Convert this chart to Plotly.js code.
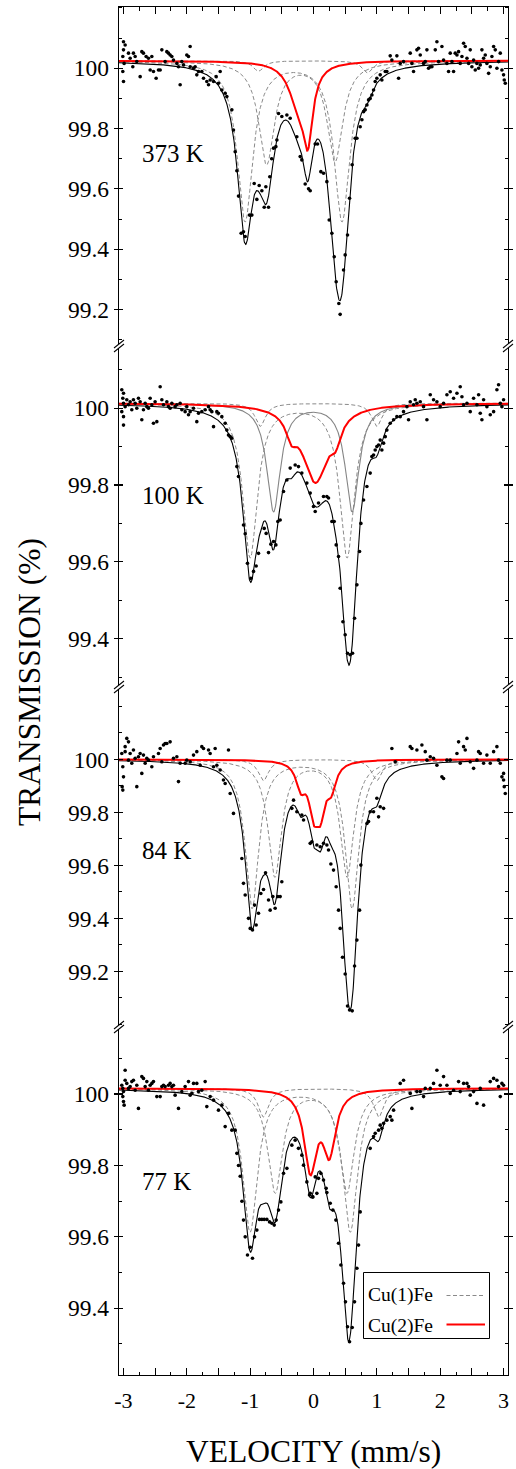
<!DOCTYPE html>
<html><head><meta charset="utf-8">
<script src="https://cdn.plot.ly/plotly-3.0.1.min.js"></script>
<style>html,body{margin:0;padding:0;background:#fff}#chart{width:516px;height:1469px}</style>
</head><body><div id="chart"></div>
<script>
// ---------------- DATA ----------------
const panelTemps = ['373 K', '100 K', '84 K', '77 K'];
const velocityTicks = [-3, -2.5, -2, -1.5, -1, -0.5, 0, 0.5, 1, 1.5, 2, 2.5, 3];
const velocityTickText = ['-3', '', '-2', '', '-1', '', '0', '', '1', '', '2', '', '3'];
const transTicks373 = [99.2, 99.4, 99.6, 99.8, 100];
const transTicks100 = [99.4, 99.6, 99.8, 100];
const transTicks84 = [99.2, 99.4, 99.6, 99.8, 100];
const transTicks77 = [99.4, 99.6, 99.8, 100];
const legendNames = ['Cu(1)Fe', 'Cu(2)Fe'];

// measured points [velocity mm/s, transmission %]
const pts373 = [[-2.999,100.088],[-2.973,100.077],[-2.999,100.061],[-3.01,100.039],[-2.989,100.016],[-3.01,99.989],[-2.999,99.956],[-2.92,100.05],[-2.894,100.033],[-2.842,100.05],[-2.852,100.005],[-2.815,100.039],[-2.789,100.022],[-2.736,99.972],[-2.71,100.055],[-2.684,100.05],[-2.642,100.039],[-2.605,100.033],[-2.552,100.039],[-2.578,99.994],[-2.526,99.989],[-2.484,99.967],[-2.447,99.994],[-2.42,99.994],[-2.394,100.061],[-2.342,100.022],[-2.315,100.055],[-2.289,100.05],[-2.263,100.044],[-2.236,100.039],[-2.21,100.027],[-2.157,100.016],[-2.131,100.005],[-2.105,99.945],[-2.078,100.022],[-2.052,100.011],[-2.0,100.044],[-1.973,100.039],[-1.947,100.072],[-1.947,100.005],[-1.894,100.0],[-1.868,100.005],[-1.842,99.978],[-1.815,99.989],[-1.763,99.989],[-1.736,99.967],[-1.684,99.956],[-1.657,99.945],[-1.631,99.961],[-1.578,99.956],[-1.536,99.972],[-1.5,99.95],[-1.473,99.989],[-1.447,99.928],[-1.394,99.917],[-1.368,99.906],[-1.289,99.862],[-1.263,99.795],[-1.236,99.723],[-1.21,99.66],[-1.184,99.576],[-1.142,99.453],[-1.105,99.458],[-1.078,99.442],[-1.01,99.513],[-0.973,99.513],[-0.936,99.618],[-0.894,99.565],[-0.857,99.611],[-0.815,99.594],[-0.778,99.539],[-0.752,99.607],[-0.71,99.539],[-0.69,99.64],[-0.66,99.70],[-0.631,99.735],[-0.594,99.74],[-0.578,99.762],[-0.552,99.85],[-0.5,99.84],[-0.42,99.845],[-0.368,99.834],[-0.263,99.773],[-0.21,99.707],[-0.184,99.696],[-0.131,99.616],[-0.078,99.6],[-0.052,99.594],[0.027,99.749],[0.064,99.749],[0.116,99.657],[0.158,99.652],[0.211,99.624],[0.248,99.497],[0.29,99.453],[0.327,99.375],[0.358,99.292],[0.4,99.22],[0.421,99.184],[0.474,99.331],[0.5,99.381],[0.537,99.447],[0.569,99.569],[0.61,99.68],[0.658,99.768],[0.685,99.768],[0.737,99.806],[0.764,99.829],[0.79,99.856],[0.816,99.862],[0.843,99.878],[0.869,99.895],[0.895,99.9],[0.922,99.911],[0.948,99.928],[0.974,99.956],[1.0,99.967],[1.053,99.978],[1.079,99.961],[1.132,99.989],[1.158,99.989],[1.211,100.041],[1.237,100.027],[1.316,100.041],[1.343,99.967],[1.369,100.016],[1.421,100.022],[1.527,100.05],[1.553,100.016],[1.579,99.989],[1.632,100.061],[1.658,100.066],[1.685,100.044],[1.737,100.016],[1.764,100.022],[1.79,100.061],[1.816,100.0],[1.843,100.005],[1.869,100.005],[1.922,100.061],[1.948,100.088],[1.974,100.022],[2.027,100.072],[2.053,100.027],[2.106,100.016],[2.132,99.989],[2.158,100.05],[2.185,100.022],[2.211,99.989],[2.237,100.05],[2.264,100.044],[2.29,100.055],[2.316,100.016],[2.343,100.039],[2.369,100.083],[2.395,100.072],[2.422,100.033],[2.448,100.016],[2.474,100.061],[2.5,100.005],[2.527,100.027],[2.553,99.994],[2.579,100.016],[2.606,100.0],[2.632,100.011],[2.658,100.061],[2.685,100.033],[2.711,100.044],[2.737,100.016],[2.764,99.983],[2.79,100.005],[2.816,100.039],[2.843,100.072],[2.869,100.061],[2.895,100.0],[2.922,100.022],[2.948,100.05],[2.974,99.994],[3.0,99.978],[3.011,99.961],[3.027,99.95]];

const pts100 = [[-3.026,100.048],[-2.999,100.039],[-3.01,100.026],[-2.999,100.013],[-2.973,100.004],[-3.026,99.991],[-2.999,99.978],[-2.999,99.956],[-2.947,100.022],[-2.92,100.009],[-2.894,100.017],[-2.868,99.996],[-2.842,100.022],[-2.815,100.013],[-2.789,100.0],[-2.763,100.026],[-2.736,100.017],[-2.71,99.97],[-2.684,99.996],[-2.657,100.013],[-2.631,100.004],[-2.605,100.0],[-2.578,100.026],[-2.552,100.009],[-2.526,99.961],[-2.5,100.017],[-2.473,99.965],[-2.42,100.056],[-2.394,100.022],[-2.368,100.009],[-2.315,100.017],[-2.289,100.004],[-2.263,100.0],[-2.236,100.013],[-2.184,100.004],[-2.157,100.009],[-2.105,100.013],[-2.078,99.996],[-2.026,99.991],[-2.0,100.004],[-1.973,99.983],[-1.947,99.991],[-1.894,100.0],[-1.842,99.965],[-1.815,99.987],[-1.763,99.991],[-1.71,99.996],[-1.657,100.004],[-1.631,99.996],[-1.605,99.991],[-1.578,99.952],[-1.526,99.991],[-1.5,99.987],[-1.447,99.978],[-1.394,99.961],[-1.368,99.943],[-1.342,99.93],[-1.315,99.926],[-1.289,99.922],[-1.21,99.848],[-1.184,99.822],[-1.105,99.696],[-1.078,99.673],[-1.042,99.596],[-0.989,99.557],[-0.947,99.575],[-0.905,99.589],[-0.868,99.622],[-0.778,99.687],[-0.747,99.674],[-0.71,99.624],[-0.673,99.646],[-0.631,99.653],[-0.594,99.644],[-0.563,99.705],[-0.526,99.709],[-0.473,99.783],[-0.42,99.813],[-0.368,99.844],[-0.289,99.852],[-0.237,99.848],[-0.184,99.831],[-0.105,99.805],[-0.052,99.779],[0.0,99.744],[0.027,99.731],[0.079,99.753],[0.158,99.77],[0.211,99.77],[0.237,99.766],[0.29,99.705],[0.327,99.705],[0.358,99.644],[0.395,99.614],[0.421,99.531],[0.464,99.444],[0.5,99.41],[0.537,99.362],[0.579,99.358],[0.616,99.362],[0.648,99.453],[0.685,99.54],[0.727,99.627],[0.748,99.7],[0.79,99.761],[0.843,99.796],[0.895,99.831],[0.921,99.874],[0.948,99.878],[0.974,99.891],[1.0,99.9],[1.027,99.904],[1.053,99.917],[1.079,99.891],[1.106,99.909],[1.132,99.926],[1.158,99.943],[1.211,99.961],[1.264,99.97],[1.316,99.978],[1.369,99.978],[1.421,99.991],[1.474,100.004],[1.5,99.97],[1.527,100.017],[1.579,100.009],[1.606,100.022],[1.632,100.013],[1.685,100.017],[1.737,100.004],[1.79,99.97],[1.843,100.035],[1.895,100.022],[1.948,100.017],[2.0,100.004],[2.053,100.013],[2.106,100.035],[2.158,100.043],[2.211,100.026],[2.264,100.039],[2.316,100.056],[2.343,100.03],[2.369,100.009],[2.422,100.013],[2.474,99.991],[2.527,100.026],[2.58,100.009],[2.606,100.035],[2.632,99.987],[2.658,99.97],[2.685,100.022],[2.737,100.004],[2.79,99.983],[2.843,99.991],[2.895,100.048],[2.921,100.061],[2.948,100.013],[2.974,100.004],[3.0,100.022]];

const pts84 = [[-3.026,100.022],[-3.01,99.972],[-2.999,99.934],[-3.02,99.897],[-3.01,99.884],[-2.973,100.048],[-2.973,100.029],[-2.947,100.079],[-2.92,100.066],[-2.92,99.997],[-2.894,100.022],[-2.868,99.985],[-2.842,100.035],[-2.815,100.004],[-2.789,99.897],[-2.763,100.01],[-2.736,100.022],[-2.71,99.947],[-2.684,100.016],[-2.657,99.985],[-2.631,100.004],[-2.605,99.997],[-2.552,99.972],[-2.526,100.01],[-2.447,100.022],[-2.42,100.041],[-2.394,99.991],[-2.368,100.054],[-2.342,100.06],[-2.315,100.06],[-2.263,100.066],[-2.21,100.004],[-2.157,100.01],[-2.131,99.916],[-2.105,99.985],[-2.026,99.985],[-2.0,99.997],[-1.947,99.991],[-1.894,100.016],[-1.842,100.029],[-1.789,99.978],[-1.763,100.048],[-1.736,100.041],[-1.657,100.035],[-1.631,100.022],[-1.578,99.972],[-1.552,100.041],[-1.526,99.978],[-1.473,99.96],[-1.421,99.922],[-1.394,99.909],[-1.342,100.035],[-1.315,99.871],[-1.263,99.796],[-1.131,99.626],[-1.105,99.532],[-1.078,99.488],[-1.026,99.4],[-0.999,99.362],[-0.963,99.356],[-0.931,99.45],[-0.905,99.375],[-0.868,99.419],[-0.831,99.494],[-0.789,99.509],[-0.757,99.572],[-0.71,99.469],[-0.684,99.431],[-0.642,99.482],[-0.605,99.438],[-0.563,99.482],[-0.526,99.482],[-0.5,99.538],[-0.342,99.815],[-0.315,99.846],[-0.263,99.802],[-0.184,99.79],[-0.157,99.771],[-0.052,99.683],[-0.026,99.689],[0.053,99.677],[0.106,99.67],[0.158,99.683],[0.211,99.677],[0.237,99.658],[0.274,99.605],[0.316,99.582],[0.358,99.519],[0.395,99.431],[0.421,99.362],[0.458,99.253],[0.5,99.19],[0.537,99.069],[0.569,99.054],[0.611,99.051],[0.648,99.22],[0.685,99.318],[0.727,99.431],[0.748,99.601],[0.843,99.758],[0.869,99.765],[0.895,99.802],[0.948,99.802],[1.0,99.853],[1.027,99.783],[1.053,99.821],[1.106,99.815],[1.237,100.041],[1.29,99.991],[1.527,100.048],[1.553,100.041],[1.632,100.035],[1.711,100.054],[1.764,100.029],[1.79,99.997],[1.843,100.01],[1.895,100.004],[1.948,99.978],[2.027,99.934],[2.053,99.928],[2.106,99.997],[2.158,99.997],[2.264,100.022],[2.29,100.066],[2.316,99.985],[2.369,100.048],[2.395,100.035],[2.422,100.079],[2.474,99.991],[2.527,99.966],[2.58,99.997],[2.606,100.029],[2.632,100.022],[2.685,99.985],[2.737,100.016],[2.79,99.985],[2.843,100.029],[2.895,100.048],[2.921,99.997],[2.948,99.985],[2.974,99.934],[3.0,99.922],[3.011,99.897],[3.027,99.871],[3.0,99.947]];

const pts77 = [[-3.026,100.025],[-3.01,100.016],[-2.999,100.007],[-3.01,99.993],[-2.999,99.979],[-2.989,99.969],[-2.973,100.067],[-2.973,100.039],[-2.947,100.03],[-2.92,100.016],[-2.894,100.021],[-2.868,100.035],[-2.842,100.039],[-2.815,100.011],[-2.789,100.025],[-2.763,99.96],[-2.71,100.049],[-2.684,100.044],[-2.657,100.021],[-2.631,100.035],[-2.605,100.011],[-2.578,100.025],[-2.552,100.03],[-2.526,100.035],[-2.473,99.993],[-2.42,99.993],[-2.394,100.021],[-2.368,100.025],[-2.342,100.021],[-2.289,100.025],[-2.263,100.03],[-2.236,100.021],[-2.21,100.025],[-2.184,99.997],[-2.131,99.96],[-2.078,100.007],[-2.026,100.021],[-1.973,100.035],[-1.947,99.997],[-1.92,100.002],[-1.894,100.03],[-1.842,100.03],[-1.815,100.007],[-1.763,100.011],[-1.71,100.035],[-1.684,99.965],[-1.631,99.993],[-1.578,99.983],[-1.5,99.955],[-1.447,99.969],[-1.394,99.909],[-1.342,99.946],[-1.289,99.899],[-1.236,99.899],[-1.21,99.834],[-1.184,99.80],[-1.157,99.77],[-1.13,99.70],[-1.105,99.647],[-1.078,99.6],[-1.042,99.549],[-0.999,99.571],[-0.963,99.54],[-0.931,99.6],[-0.894,99.619],[-0.852,99.649],[-0.815,99.649],[-0.778,99.649],[-0.736,99.649],[-0.694,99.642],[-0.657,99.638],[-0.62,99.633],[-0.589,99.647],[-0.552,99.675],[-0.515,99.698],[-0.473,99.778],[-0.42,99.792],[-0.342,99.857],[-0.289,99.871],[-0.237,99.848],[-0.184,99.829],[-0.157,99.801],[-0.105,99.754],[-0.063,99.717],[-0.052,99.722],[-0.015,99.712],[-0.01,99.712],[0.027,99.768],[0.053,99.722],[0.079,99.764],[0.116,99.778],[0.158,99.759],[0.2,99.736],[0.211,99.724],[0.264,99.694],[0.306,99.675],[0.353,99.647],[0.395,99.582],[0.432,99.521],[0.474,99.47],[0.505,99.418],[0.537,99.348],[0.569,99.306],[0.611,99.346],[0.648,99.418],[0.685,99.512],[0.711,99.577],[0.737,99.67],[0.895,99.848],[0.948,99.881],[0.974,99.89],[1.027,99.899],[1.053,99.913],[1.079,99.904],[1.106,99.918],[1.158,99.927],[1.211,99.937],[1.237,99.927],[1.264,99.955],[1.369,100.03],[1.421,100.039],[1.527,100.002],[1.553,99.96],[1.632,100.007],[1.685,100.007],[1.737,99.993],[1.764,100.016],[1.843,100.016],[1.895,100.03],[1.948,100.067],[2.0,100.025],[2.053,100.049],[2.106,100.025],[2.158,100.002],[2.211,100.011],[2.29,100.035],[2.316,100.007],[2.369,100.03],[2.422,100.03],[2.448,100.021],[2.474,99.997],[2.527,100.007],[2.58,99.974],[2.632,100.016],[2.685,99.969],[2.79,100.035],[2.843,100.044],[2.895,100.039],[2.921,100.021],[2.948,99.993],[2.974,100.03],[3.0,100.025]];

// fitted Lorentzian lines: baseline, centre (mm/s), depth (%), half width (mm/s), site
const base373 = 100.025;
const pos373 = [-1.08, 0.45, -0.74, 0.34, -0.87, 0.85, -0.25, -0.09];
const depth373 = [0.53, 0.53, 0.34, 0.33, 0.035, 0.04, 0.12, 0.23];
const hwhm373 = [0.15, 0.15, 0.15, 0.15, 0.10, 0.10, 0.18, 0.095];
const site373 = ['A', 'A', 'B', 'B', 'C', 'C', 'R', 'R'];

const base100 = 100.013;
const pos100 = [-1.0, 0.53, -0.63, 0.61, -0.84, 1.0, -0.35, 0.03, 0.35];
const depth100 = [0.40, 0.40, 0.28, 0.28, 0.06, 0.06, 0.05, 0.20, 0.05];
const hwhm100 = [0.14, 0.14, 0.13, 0.13, 0.10, 0.10, 0.10, 0.25, 0.10];
const site100 = ['A', 'A', 'G', 'G', 'C', 'C', 'R', 'R', 'R'];

const base84 = 100.0;
const pos84 = [-0.97, 0.61, -0.61, 0.53, -0.79, 1.0, -0.20, 0.0, 0.11, 0.28];
const depth84 = [0.56, 0.56, 0.44, 0.44, 0.08, 0.08, 0.09, 0.16, 0.16, 0.09];
const hwhm84 = [0.13, 0.13, 0.13, 0.13, 0.10, 0.10, 0.09, 0.09, 0.09, 0.09];
const site84 = ['A', 'A', 'B', 'B', 'C', 'C', 'R', 'R', 'R', 'R'];

const base77 = 100.016;
const pos77 = [-1.0, 0.58, -0.605, 0.527, -0.79, 1.03, -0.05, 0.25];
const depth77 = [0.40, 0.40, 0.29, 0.29, 0.08, 0.08, 0.22, 0.17];
const hwhm77 = [0.14, 0.14, 0.14, 0.14, 0.10, 0.10, 0.12, 0.12];
const site77 = ['A', 'A', 'B', 'B', 'C', 'C', 'R', 'R'];

// ---------------- BUILD ----------------
const SERIF = 'Liberation Serif';
const panels = [
  {pts: pts373, base: base373, pos: pos373, depth: depth373, w: hwhm373, site: site373, ticks: transTicks373},
  {pts: pts100, base: base100, pos: pos100, depth: depth100, w: hwhm100, site: site100, ticks: transTicks100},
  {pts: pts84, base: base84, pos: pos84, depth: depth84, w: hwhm84, site: site84, ticks: transTicks84},
  {pts: pts77, base: base77, pos: pos77, depth: depth77, w: hwhm77, site: site77, ticks: transTicks77}
];
// layout geometry (pixels)
const W = 516, H = 1469, ML = 119, MR = 8, MT = 7, MB = 94;
const PW = W - ML - MR, PH = H - MT - MB;
const panelEdges = [MT, 346, 687, 1027, H - MB];
const yRanges = [[99.079, 100.203], [99.274, 100.162], [98.99, 100.273], [99.213, 100.188]];
const labelY = [99.716, 99.773, 99.656, 99.755];
const XR = [-3.07, 3.07];
const px2x = p => (p - ML) / PW;
const py2y = p => (H - MB - p) / PH;

const grid = [];
for (let v = XR[0]; v <= XR[1] + 1e-9; v += 0.005) grid.push(+v.toFixed(4));

function absorb(p, idx, v) {
  let s = 0;
  idx.forEach(i => { const w2 = p.w[i] * p.w[i]; s += p.depth[i] * w2 / ((v - p.pos[i]) ** 2 + w2); });
  return s;
}

const traces = [];
panels.forEach((p, k) => {
  const ya = k === 0 ? 'y' : 'y' + (k + 1);
  const sites = [...new Set(p.site)];
  const order = sites.filter(s => s !== 'R');
  const all = p.pos.map((_, i) => i);
  order.forEach(s => {
    const idx = all.filter(i => p.site[i] === s);
    traces.push({x: grid, y: grid.map(v => p.base - absorb(p, idx, v)), xaxis: 'x', yaxis: ya, mode: 'lines',
      line: s === 'G' ? {color: '#858585', width: 1.1} : {color: '#8a8a8a', width: 1, dash: '4px,2.5px'}, hoverinfo: 'skip'});
  });
  traces.push({x: grid, y: grid.map(v => p.base - absorb(p, all, v)), xaxis: 'x', yaxis: ya, mode: 'lines',
    line: {color: '#000', width: 1.1}, hoverinfo: 'skip'});
  const ridx = all.filter(i => p.site[i] === 'R');
  traces.push({x: grid, y: grid.map(v => p.base - absorb(p, ridx, v)), xaxis: 'x', yaxis: ya, mode: 'lines',
    line: {color: '#ff0000', width: 2}, hoverinfo: 'skip'});
  traces.push({x: p.pts.map(d => d[0]), y: p.pts.map(d => d[1]), xaxis: 'x', yaxis: ya, mode: 'markers',
    marker: {color: '#000', size: 3.6}, hoverinfo: 'skip'});
  traces.push({x: [null], y: [null], xaxis: 'x', yaxis: 'y' + (k + 5), mode: 'markers', showlegend: false, hoverinfo: 'skip'});
});
traces.push({x: [null], y: [null], xaxis: 'x2', yaxis: 'y', mode: 'markers', showlegend: false, hoverinfo: 'skip'});

const layout = {
  width: W, height: H, margin: {l: ML, r: MR, t: MT, b: MB}, showlegend: false,
  paper_bgcolor: '#fff', plot_bgcolor: 'rgba(0,0,0,0)', font: {family: SERIF, color: '#000'},
  xaxis: {anchor: 'y4', domain: [0, 1], range: XR, showline: true, linecolor: '#000', linewidth: 1.2,
    ticks: 'inside', ticklen: 7, tickwidth: 1.2, tickcolor: '#000', tickmode: 'array', tickvals: velocityTicks, ticktext: velocityTickText,
    tickfont: {family: SERIF, size: 22, color: '#000'}, ticklabelstandoff: 5, showgrid: false, zeroline: false,
    minor: {ticks: 'inside', ticklen: 3.5, tickwidth: 1, tickcolor: '#000', tickmode: 'linear', tick0: -3, dtick: 0.25}},
  xaxis2: {overlaying: 'x', anchor: 'y', side: 'top', range: XR, showline: true, linecolor: '#000', linewidth: 1.2,
    ticks: 'inside', ticklen: 7, tickwidth: 1.2, tickcolor: '#000', tickmode: 'array', tickvals: velocityTicks, showticklabels: false,
    showgrid: false, zeroline: false,
    minor: {ticks: 'inside', ticklen: 3.5, tickwidth: 1, tickcolor: '#000', tickmode: 'linear', tick0: -3, dtick: 0.25}},
  annotations: [], shapes: []
};
panels.forEach((p, k) => {
  const dom = [py2y(panelEdges[k + 1]), py2y(panelEdges[k])];
  const name = k === 0 ? 'yaxis' : 'yaxis' + (k + 1);
  layout[name] = {domain: dom, range: yRanges[k], anchor: 'x', showline: true, linecolor: '#000', linewidth: 1.2, mirror: 'ticks',
    ticks: 'outside', ticklen: 4, tickwidth: 1.2, tickcolor: '#000', tickmode: 'array', tickvals: p.ticks,
    ticktext: p.ticks.map(t => t === 100 ? '100' : t.toFixed(1)), tickfont: {family: SERIF, size: 23.5, color: '#000'}, ticklabelstandoff: 0,
    showgrid: false, zeroline: false,
    minor: {ticks: 'inside', ticklen: 3, tickwidth: 1, tickcolor: '#000', tickmode: 'linear', tick0: 100, dtick: 0.1}};
  layout['yaxis' + (k + 5)] = {overlaying: k === 0 ? 'y' : 'y' + (k + 1), range: yRanges[k], anchor: 'x', side: 'left', showline: true,
    linecolor: '#000', linewidth: 1.2, mirror: 'ticks', ticks: 'inside', ticklen: 4, tickwidth: 1.2, tickcolor: '#000',
    tickmode: 'array', tickvals: p.ticks, showticklabels: false, showgrid: false, zeroline: false};
  layout.annotations.push({xref: 'x', yref: k === 0 ? 'y' : 'y' + (k + 1), x: -2.74, y: labelY[k], text: panelTemps[k],
    showarrow: false, xanchor: 'left', yanchor: 'middle', font: {family: SERIF, size: 25, color: '#000'}});
});
// axis titles
layout.annotations.push({xref: 'paper', yref: 'paper', x: px2x(29), y: py2y(682), text: 'TRANSMISSION (%)', textangle: -90,
  showarrow: false, xanchor: 'center', yanchor: 'middle', font: {family: SERIF, size: 31.5, color: '#000'}});
layout.annotations.push({xref: 'paper', yref: 'paper', x: px2x(313), y: py2y(1451), text: 'VELOCITY (mm/s)',
  showarrow: false, xanchor: 'center', yanchor: 'middle', font: {family: SERIF, size: 31.5, color: '#000'}});
// axis break marks
[panelEdges[1], panelEdges[2], panelEdges[3]].forEach(by => {
  [ML, W - MR].forEach(bx => {
    layout.shapes.push({type: 'rect', xref: 'paper', yref: 'paper', x0: px2x(bx - 3), x1: px2x(bx + 3), y0: py2y(by + 2), y1: py2y(by - 2),
      line: {width: 0}, fillcolor: '#fff', layer: 'above'});
    layout.shapes.push({type: 'line', xref: 'paper', yref: 'paper', x0: px2x(bx - 5), y0: py2y(by + 6), x1: px2x(bx + 5), y1: py2y(by - 2),
      line: {color: '#000', width: 1.1}, layer: 'above'});
    layout.shapes.push({type: 'line', xref: 'paper', yref: 'paper', x0: px2x(bx - 5), y0: py2y(by + 2), x1: px2x(bx + 5), y1: py2y(by - 6),
      line: {color: '#000', width: 1.1}, layer: 'above'});
  });
});
// legend box
layout.shapes.push({type: 'rect', xref: 'paper', yref: 'paper', x0: px2x(363.5), x1: px2x(489.5), y0: py2y(1338.5), y1: py2y(1272.5),
  line: {color: '#000', width: 1}, fillcolor: '#fff', layer: 'above'});
layout.shapes.push({type: 'line', xref: 'paper', yref: 'paper', x0: px2x(446.5), x1: px2x(485), y0: py2y(1295.5), y1: py2y(1295.5),
  line: {color: '#8a8a8a', width: 1, dash: '4px,2.5px'}, layer: 'above'});
layout.shapes.push({type: 'line', xref: 'paper', yref: 'paper', x0: px2x(446.5), x1: px2x(485), y0: py2y(1324.5), y1: py2y(1324.5),
  line: {color: '#ff0000', width: 2}, layer: 'above'});
legendNames.forEach((t, i) => {
  layout.annotations.push({xref: 'paper', yref: 'paper', x: px2x(366), y: py2y(i === 0 ? 1295 : 1326), text: t, showarrow: false,
    xanchor: 'left', yanchor: 'middle', font: {family: SERIF, size: 19.5, color: '#000'}});
});

Plotly.newPlot('chart', traces, layout, {staticPlot: true, displayModeBar: false});
</script></body></html>
